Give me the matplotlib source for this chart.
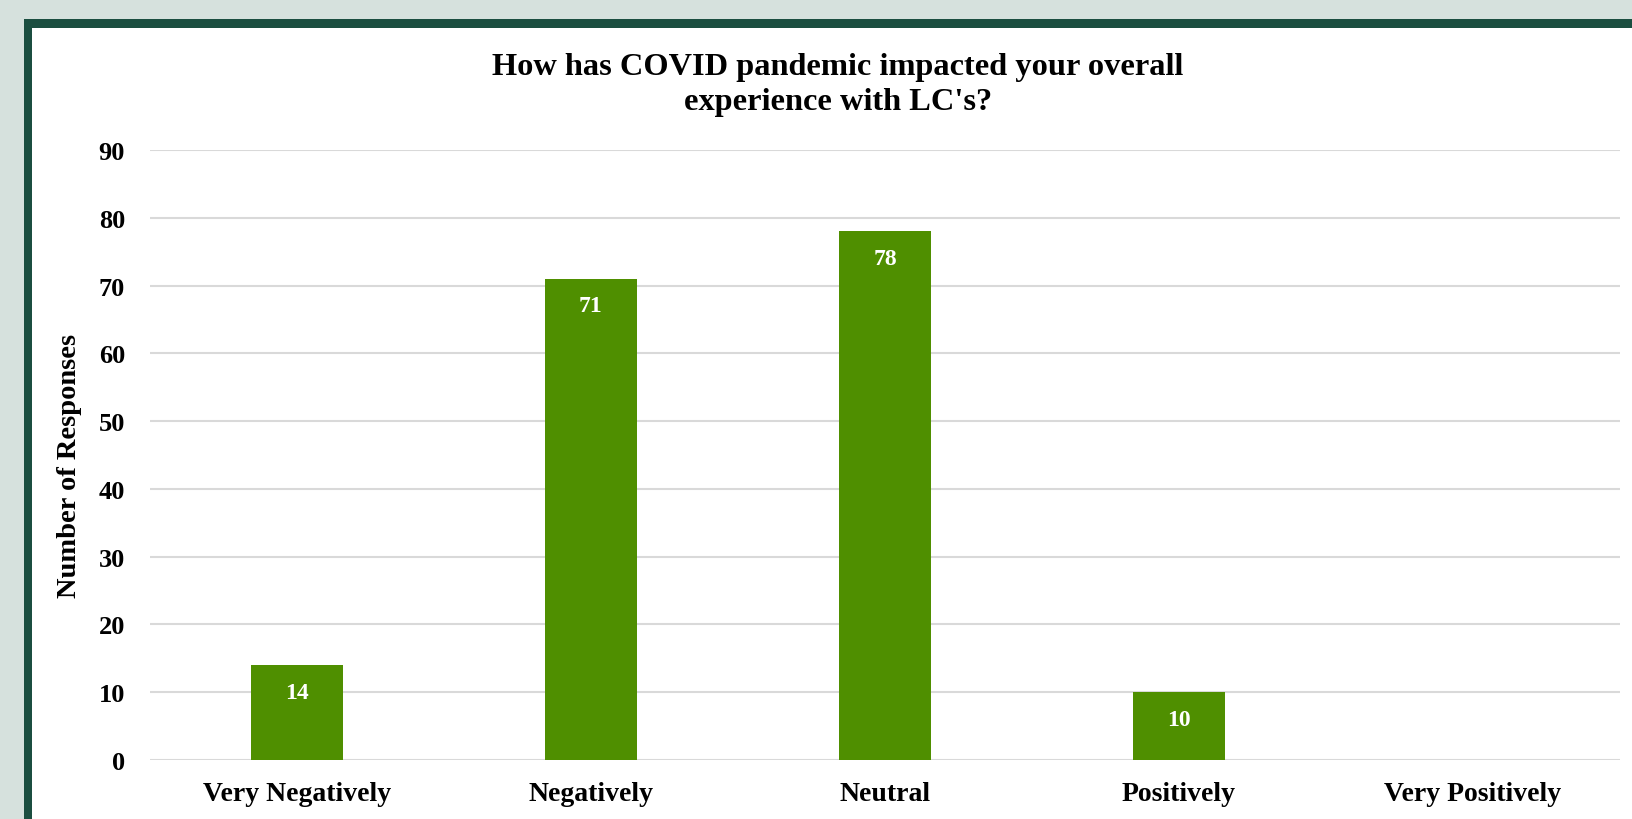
import matplotlib
matplotlib.use('Agg')
import matplotlib.pyplot as plt
from matplotlib.patches import Rectangle
import numpy as np

categories = ['Very Negatively', 'Negatively', 'Neutral', 'Positively', 'Very Positively']
responses = [14, 71, 78, 10, 0]
yticks = [0, 10, 20, 30, 40, 50, 60, 70, 80, 90]

W, H = 1632, 820
plt.rcParams['font.family'] = ['Liberation Serif', 'DejaVu Serif']
plt.rcParams['font.weight'] = 'bold'

fig = plt.figure(figsize=(W / 100, H / 100), dpi=100)
fig.patch.set_facecolor('#d6e1dd')

# dark green frame and white panel, cut off at right and bottom
fig.patches.append(Rectangle((24 / W, 0), 1, (H - 20) / H, transform=fig.transFigure,
                             facecolor='#1b4e40', edgecolor='none', zorder=-2))
fig.patches.append(Rectangle((32 / W, 0), 1, (H - 29) / H, transform=fig.transFigure,
                             facecolor='white', edgecolor='none', zorder=-1))

ax = fig.add_axes([150 / W, (H - 761) / H, (1620 - 150) / W, (761 - 151) / H])
ax.set_facecolor('none')

x = np.arange(len(categories))
bars = ax.bar(x, responses, width=0.315, color='#4f8f00', zorder=3)

for xi, v in zip(x, responses):
    if v > 0:
        ax.annotate(str(v), (xi, v), xytext=(0, -12), textcoords='offset points',
                    ha='center', va='top', color='white', fontsize=17, fontweight='bold')

ax.set_xlim(-0.5, len(categories) - 0.5)
ax.set_ylim(0, 90)
ax.set_yticks(yticks)
ax.set_xticks(x)
ax.set_xticklabels(categories, fontsize=20, fontweight='bold')
ax.tick_params(axis='y', labelsize=19, length=0, pad=18)
ax.tick_params(axis='x', length=0, pad=15)
ax.yaxis.grid(True, color='#d9d9d9', linewidth=1.5, zorder=0)
for s in ax.spines.values():
    s.set_visible(False)

ax.set_ylabel('Number of Responses', fontsize=20.5, fontweight='bold')
ax.yaxis.set_label_coords(-0.0465, 0.484)

fig.text(838 / W, 1 - 53 / H, "How has COVID pandemic impacted your overall\nexperience with LC's?",
         ha='center', va='top', fontsize=23.3, fontweight='bold', linespacing=1.27)

fig.savefig('out.png', dpi=100, facecolor=fig.get_facecolor())
